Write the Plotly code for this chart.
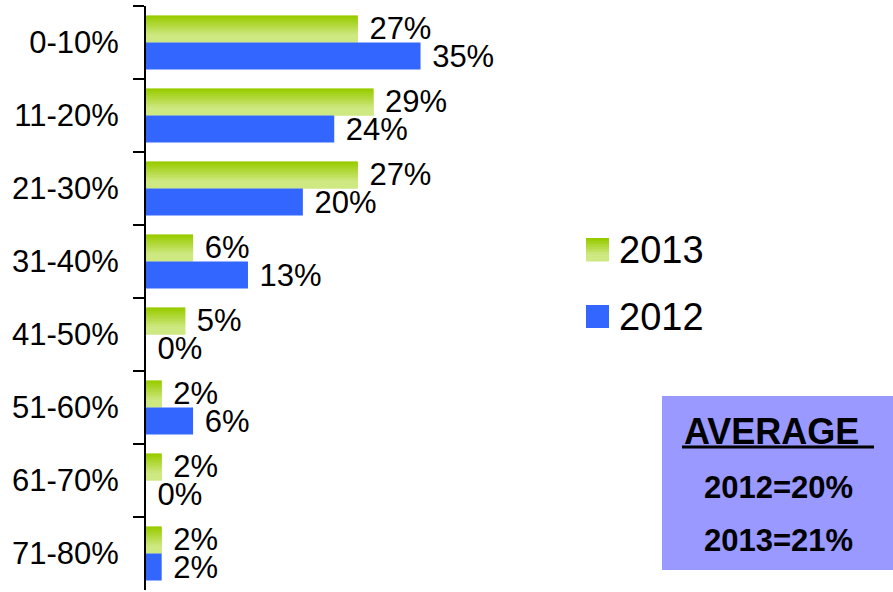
import plotly.graph_objects as go

# Data
categories = ['0-10%', '11-20%', '21-30%', '31-40%', '41-50%', '51-60%', '61-70%', '71-80%']
values_2013 = [27, 29, 27, 6, 5, 2, 2, 2]
values_2012 = [35, 24, 20, 13, 0, 6, 0, 2]
series_names = ['2013', '2012']
average_lines = ['2012=20%', '2013=21%']

FONT = 'Liberation Sans, Arial, sans-serif'
BLUE = '#3366FF'
GREEN_TOP = (153, 204, 0)
GREEN_BOTTOM = (206, 232, 130)
BAR_W = 0.37
N_SLICES = 14

W, H = 893, 592
ML, MT, MB = 146, 6, 2
PW, PH = W - ML, H - MT - MB


def green_at(t):
    f = min(1.0, t / 0.75)
    c = [round(a + (b - a) * f) for a, b in zip(GREEN_TOP, GREEN_BOTTOM)]
    return f'rgb({c[0]},{c[1]},{c[2]})'


def px(x):
    return (x - ML) / PW


def py(y):
    return (H - MB - y) / PH


fig = go.Figure()

# 2013 base bar (carries the labels)
fig.add_trace(go.Bar(
    y=categories, x=values_2013, orientation='h', name=series_names[0],
    offset=-BAR_W, width=BAR_W, marker=dict(color=green_at(1.0), line_width=0),
    text=['\u00a0' + f'{v}%' for v in values_2013], textposition='outside',
    constraintext='none', cliponaxis=False,
    textfont=dict(size=31, color='black', family=FONT), showlegend=False,
))

# vertical gradient on the 2013 bars, drawn as thin slices
sw = BAR_W / N_SLICES
for i in range(N_SLICES):
    fig.add_trace(go.Bar(
        y=categories, x=values_2013, orientation='h',
        offset=-BAR_W + i * sw, width=sw * (1.6 if i < N_SLICES - 1 else 1.0),
        marker=dict(color=green_at(i / (N_SLICES - 1)), line_width=0),
        showlegend=False, hoverinfo='skip',
    ))

# 2012 bars
fig.add_trace(go.Bar(
    y=categories, x=values_2012, orientation='h', name=series_names[1],
    offset=0, width=BAR_W, marker=dict(color=BLUE, line_width=0),
    text=['\u00a0' + f'{v}%' for v in values_2012], textposition='outside',
    constraintext='none', cliponaxis=False,
    textfont=dict(size=31, color='black', family=FONT), showlegend=False,
))

shapes = []
annotations = []

# manual legend with big square swatches
leg = [(series_names[0], 238, 'green'), (series_names[1], 305, BLUE)]
for name, top, col in leg:
    if col == 'green':
        n = 8
        for i in range(n):
            y0 = top + i * 23 / n
            shapes.append(dict(type='rect', xref='paper', yref='paper',
                               x0=px(586), x1=px(609), y0=py(y0 + 23 / n + 0.5), y1=py(y0),
                               fillcolor=green_at(i / (n - 1)), line_width=0))
    else:
        shapes.append(dict(type='rect', xref='paper', yref='paper',
                           x0=px(586), x1=px(609), y0=py(top + 23), y1=py(top),
                           fillcolor=col, line_width=0))
    annotations.append(dict(text=name, xref='paper', yref='paper', x=px(617), y=py(top + 12),
                            xanchor='left', yanchor='middle', showarrow=False,
                            font=dict(size=38, color='black', family=FONT)))

# average box
shapes.append(dict(type='rect', xref='paper', yref='paper', x0=px(662), x1=px(900),
                   y0=py(570), y1=py(396), fillcolor='#9999FF', line_width=0, layer='below'))
annotations.append(dict(text='<b>AVERAGE</b>', xref='paper', yref='paper', x=px(771), y=py(431),
                        xanchor='center', yanchor='middle', showarrow=False,
                        font=dict(size=36, color='black', family=FONT)))
shapes.append(dict(type='line', xref='paper', yref='paper', x0=px(682), x1=px(874),
                   y0=py(447), y1=py(447), line=dict(color='black', width=3)))
for txt, yc in zip(average_lines, [487, 540]):
    annotations.append(dict(text=f'<b>{txt}</b>', xref='paper', yref='paper', x=px(778), y=py(yc),
                            xanchor='center', yanchor='middle', showarrow=False,
                            font=dict(size=31, color='black', family=FONT)))

fig.update_layout(
    width=W, height=H, barmode='overlay',
    margin=dict(l=ML, r=0, t=MT, b=MB, pad=0, autoexpand=False),
    paper_bgcolor='white', plot_bgcolor='white',
    showlegend=False, shapes=shapes, annotations=annotations,
    font=dict(family=FONT, color='black'),
)
fig.update_xaxes(domain=[0, 0.42], range=[0, 40], visible=False, fixedrange=True,
                 automargin=False)
fig.update_yaxes(
    type='category', categoryorder='array', categoryarray=categories,
    autorange='reversed', showline=True, linecolor='black', linewidth=2,
    ticks='outside', ticklen=11, tickwidth=2, tickcolor='black', tickson='boundaries',
    showgrid=False, zeroline=False, tickfont=dict(size=31, color='black', family=FONT),
    ticklabelstandoff=19, fixedrange=True, automargin=False,
)

# drop the page's default body margin so the figure sits at the window's corner
fig.write_html('out.html', config={'displayModeBar': False},
               post_script="document.body.style.margin='0';")
